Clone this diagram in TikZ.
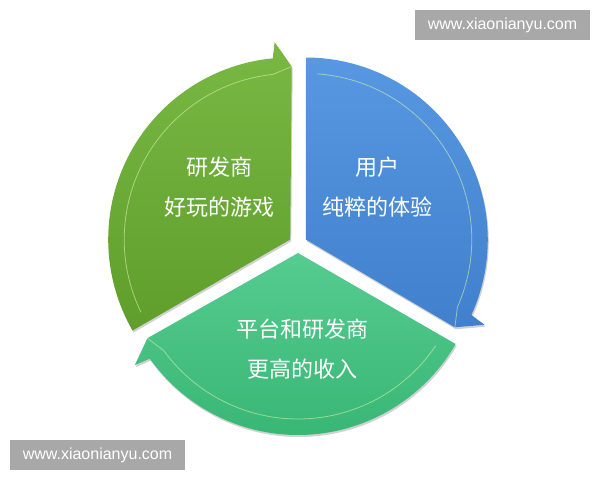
\documentclass[tikz,border=0pt]{standalone}
\usepackage{fontspec}
\setsansfont{Liberation Sans}
\newfontfamily\cjk{Noto Sans CJK SC}
\usetikzlibrary{positioning}

\definecolor{greenA}{RGB}{122,184,68}
\definecolor{greenB}{RGB}{96,158,44}
\definecolor{blueA}{RGB}{88,152,226}
\definecolor{blueB}{RGB}{64,128,204}
\definecolor{tealA}{RGB}{86,204,144}
\definecolor{tealB}{RGB}{56,182,116}
\definecolor{markgray}{RGB}{168,168,168}
\definecolor{shine}{RGB}{214,240,170}

\begin{document}
\begin{tikzpicture}[x=1pt,y=1pt,
    label text/.style={text=white,align=center,font=\cjk\fontsize{22}{40}\selectfont},
    mark box/.style={fill=markgray,text=white,inner sep=0pt,minimum width=175pt,minimum height=30pt,
      font=\sffamily\fontsize{16}{16}\selectfont}]
    \useasboundingbox (0,0) rectangle (600,480);
    % one blade of the cycle, arrow at its clockwise end #1
    \def\blade#1{(0,0) -- (#1-.5:173) -- (#1+4.5:198) -- (#1+5.5:182)
      arc[start angle=#1+5.5,end angle=#1+120,radius=182] -- cycle}
    \def\sector#1#2#3{
    \begin{scope}[shift={(298,236)}]
    \begin{scope}[shift={(#1+60:9)}]
    \fill[black,opacity=.18,shift={(1,-2)}] \blade{#1};
    \shade[top color=#2,bottom color=#3] \blade{#1};
    \draw[shine,opacity=.6,line width=.8pt]
      (#1-.5:173) -- (#1+6:166) arc[start angle=#1+6,end angle=#1+116,radius=166];
    \end{scope}
    \end{scope}
    }
    \sector{90}{greenA}{greenB}
    \sector{-30}{blueA}{blueB}
    \sector{210}{tealA}{tealB}
    \node[label text] (maker) at (219,293) {研发商\\好玩的游戏};
    \node[label text] (user) at (377,293) {用户\\纯粹的体验};
    \node[label text] (income) at (302,131) {平台和研发商\\更高的收入};
    \node[mark box] (marktop) at (502.5,455) {www.xiaonianyu.com};
    \node[mark box] (markbottom) at (97.5,25) {www.xiaonianyu.com};
\end{tikzpicture}
\end{document}
